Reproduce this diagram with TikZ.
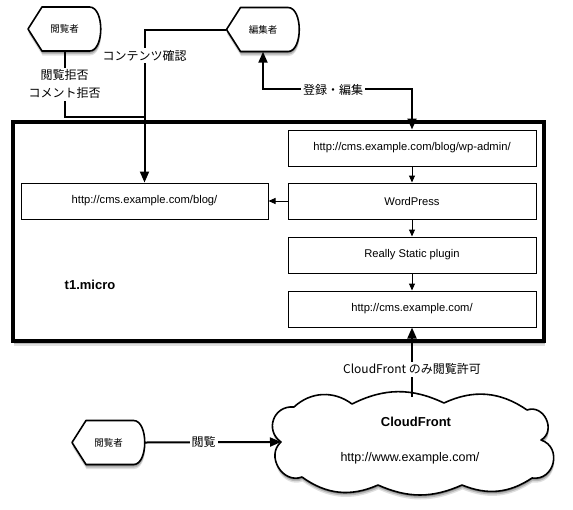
\documentclass[tikz,border=0pt]{standalone}
\usepackage{fontspec}
\setmainfont{Liberation Sans}
\newfontfamily\jp{Noto Sans CJK JP}
\usetikzlibrary{arrows.meta,shadows}
\newcommand\actorat[4]{% name, x, y, text
  \path[fill=white, softshadow] ({#2-36.5},#3) -- ({#2-22.5},{#3-22}) -- ({#2+25},{#3-22})
    .. controls ({#2+40},{#3-22}) and ({#2+40},{#3+22}) .. ({#2+25},{#3+22})
    -- ({#2-22.5},{#3+22}) -- cycle;
  \draw[line width=1.6pt, line join=round] ({#2-36.5},#3) -- ({#2-22.5},{#3-22}) -- ({#2+25},{#3-22})
    .. controls ({#2+40},{#3-22}) and ({#2+40},{#3+22}) .. ({#2+25},{#3+22})
    -- ({#2-22.5},{#3+22}) -- cycle;
  \node[actortext] (#1) at (#2,#3) {#4};
}
\begin{document}
\begin{tikzpicture}[x=1pt,y=-1pt,
  softshadow/.style={drop shadow={shadow xshift=0.5pt, shadow yshift=-4.5pt, opacity=.12, fill=black},
                     drop shadow={shadow xshift=0.5pt, shadow yshift=-3pt, opacity=.18, fill=black},
                     drop shadow={shadow xshift=0.3pt, shadow yshift=-1.5pt, opacity=.25, fill=black}},
  actortext/.style={minimum width=73pt, minimum height=44pt, inner sep=0pt, font=\jp\fontsize{9.5}{11}\selectfont},
  box/.style={draw, line width=1pt, fill=white, minimum width=248pt, minimum height=36pt, inner sep=0pt,
              font=\fontsize{11.2}{13}\selectfont},
  lbl/.style={fill=white, inner sep=2pt, font=\jp\fontsize{12}{18}\selectfont, align=center},
  thick conn/.style={line width=2pt},
  bigarrow/.style={line width=2pt, -{Triangle[length=11pt,width=9pt]}},
  smallarrow/.style={line width=1pt, -{Triangle[length=7pt,width=6pt]}},
]
\useasboundingbox (0,0) rectangle (573,509);

% main container
\path[fill=white, softshadow] (13,122) rectangle (544,341);
\draw[line width=3.5pt] (13,122) rectangle (544,341);
\node[font=\bfseries\fontsize{13}{15}\selectfont] (micro) at (90,285) {t1.micro};

% boxes
\node[box] (wp)   at (412,148) {http://cms.example.com/blog/wp-admin/};
\node[box] (word) at (412,201) {WordPress};
\node[box] (rs)   at (412,255) {Really Static plugin};
\node[box] (cms)  at (412,309) {http://cms.example.com/};
\node[box, minimum width=247pt] (blog) at (144.5,201) {http://cms.example.com/blog/};

\draw[smallarrow] (wp.south) -- (word.north);
\draw[smallarrow] (word.south) -- (rs.north);
\draw[smallarrow] (rs.south) -- (cms.north);
\draw[smallarrow] (word.west) -- (blog.east);

% actors
\actorat{viewer1}{64.5}{29}{閲覧者}
\actorat{editor}{263}{29.5}{編集者}
\actorat{viewer2}{108.5}{442.5}{閲覧者}

% cloud
\path[fill=white, softshadow]
  (281,442) to[bend left=75, looseness=1.4] (294,407)
  to[bend left=40] (352,404)
  to[bend left=26] (444,403)
  to[bend left=30] (527,410)
  to[bend left=85, looseness=1.4] (541,440)
  to[bend left=85, looseness=1.5] (532,478)
  to[bend left=28] (462,485)
  to[bend left=24] (378,485)
  to[bend left=30] (302,477)
  to[bend left=80, looseness=1.3] (281,442) -- cycle;
\draw[line width=1.6pt, line join=round]
  (281,442) to[bend left=75, looseness=1.4] (294,407)
  to[bend left=40] (352,404)
  to[bend left=26] (444,403)
  to[bend left=30] (527,410)
  to[bend left=85, looseness=1.4] (541,440)
  to[bend left=85, looseness=1.5] (532,478)
  to[bend left=28] (462,485)
  to[bend left=24] (378,485)
  to[bend left=30] (302,477)
  to[bend left=80, looseness=1.3] (281,442) -- cycle;
\node[font=\bfseries\fontsize{13}{15}\selectfont] (cfname) at (416,422) {CloudFront};
\node[font=\fontsize{12.5}{15}\selectfont] (cfurl) at (410,458) {http://www.example.com/};
\coordinate (cftop) at (412,397);
\coordinate (cfleft) at (281,442);
\coordinate (j) at (144,117);

% connectors
\draw[bigarrow] (editor.west) -- (editor.west -| blog.north) -- (blog.north)
  node[lbl, pos=0.17] (lc) {コンテンツ確認};
\draw[thick conn] (viewer1.south) -- (viewer1.south |- j)
  node[lbl, midway] (lr) {閲覧拒否\\コメント拒否} -- (j);
\draw[bigarrow, {Triangle[length=11pt,width=9pt]}-{Triangle[length=11pt,width=9pt]}]
  (editor.south) -- ++(0,37) -| (wp.north);
\node[lbl] (le) at (333,89.5) {登録・編集};
\draw[bigarrow] (cftop) -- (cms.south)
  node[lbl, pos=0.4] (lcf) {CloudFront {\jp のみ閲覧許可}};
\draw[bigarrow] (viewer2.east) -- (cfleft)
  node[lbl, pos=0.43] (lv) {閲覧};
\end{tikzpicture}
\end{document}
